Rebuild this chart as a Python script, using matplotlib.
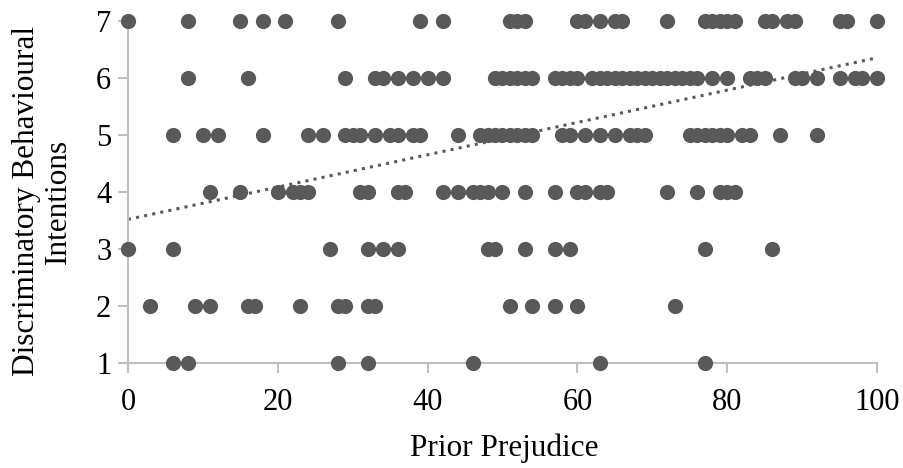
import matplotlib
matplotlib.use("Agg")
import matplotlib.pyplot as plt
import numpy as np

# Prior prejudice values (x) for each behavioural-intention level (y)
x_at_7 = [0, 8, 15, 18, 21, 28, 39, 42, 51, 52, 53, 60, 61, 63, 65, 66, 72,
          77, 78, 79, 80, 81, 85, 86, 88, 89, 95, 96, 100]
x_at_6 = [8, 16, 29, 33, 34, 36, 38, 40, 42, 49, 50, 51, 52, 53, 54, 57, 58, 59, 60,
          62, 63, 64, 65, 66, 67, 68, 69, 70, 71, 72, 73, 74, 75, 76, 78, 80,
          83, 84, 85, 89, 90, 92, 95, 97, 98, 100]
x_at_5 = [6, 10, 12, 18, 24, 26, 29, 30, 31, 33, 35, 36, 38, 39, 44,
          47, 48, 49, 50, 51, 52, 53, 54, 58, 59, 61, 63, 65, 67, 68, 69,
          75, 76, 77, 78, 79, 80, 82, 83, 87, 92]
x_at_4 = [11, 15, 20, 22, 23, 24, 31, 32, 36, 37, 42, 44, 46, 47, 48, 50,
          53, 57, 60, 61, 63, 64, 72, 76, 79, 80, 81]
x_at_3 = [0, 6, 27, 32, 34, 36, 48, 49, 53, 57, 59, 77, 86]
x_at_2 = [3, 9, 11, 16, 17, 23, 28, 29, 32, 33, 51, 54, 57, 60, 73]
x_at_1 = [6, 8, 28, 32, 46, 63, 77]

levels = [7, 6, 5, 4, 3, 2, 1]
groups = [x_at_7, x_at_6, x_at_5, x_at_4, x_at_3, x_at_2, x_at_1]

# Linear trendline
trend_intercept = 3.52
trend_slope = 0.0283

x_ticks = [0, 20, 40, 60, 80, 100]
y_ticks = [1, 2, 3, 4, 5, 6, 7]

plt.rcParams['font.family'] = ['Liberation Serif', 'DejaVu Serif']

fig = plt.figure(figsize=(9.04, 4.68), dpi=100)
ax = fig.add_axes([0.1416, 0.2237, 0.9701 - 0.1416, 0.9558 - 0.2237])

xs = np.concatenate([np.asarray(g, float) for g in groups])
ys = np.concatenate([np.full(len(g), lv, float) for g, lv in zip(groups, levels)])

ax.scatter(xs, ys, s=120, color='#595959', linewidths=0, zorder=3, clip_on=False)

tx = np.array([0, 100], float)
ax.plot(tx, trend_intercept + trend_slope * tx, linestyle=(0, (1, 1.7)),
        color='#595959', linewidth=2.2, zorder=2, clip_on=False)

ax.set_xlim(0, 100)
ax.set_ylim(1, 7)
ax.set_xticks(x_ticks)
ax.set_yticks(y_ticks)

for s in ['top', 'right']:
    ax.spines[s].set_visible(False)
for s in ['left', 'bottom']:
    ax.spines[s].set_color('#BFBFBF')
    ax.spines[s].set_linewidth(1.5)
ax.tick_params(axis='both', colors='#BFBFBF', width=1.5, length=7,
               labelsize=22, labelcolor='black', direction='out')
ax.tick_params(axis='x', pad=10.5)
ax.tick_params(axis='y', pad=5)

fig.text(0.5575, 1 - 456 / 468, 'Prior Prejudice', fontsize=22.5,
         ha='center', va='baseline')
fig.text(42.5 / 904, 1 - 201 / 468, 'Discriminatory Behavioural\nIntentions',
         fontsize=22.5, rotation=90, ha='center', va='center',
         multialignment='center', linespacing=1.12)

fig.savefig('out.png', dpi=100)
